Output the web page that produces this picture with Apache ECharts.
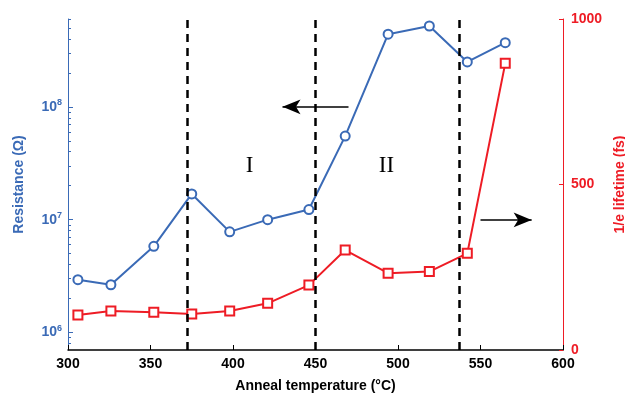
<!DOCTYPE html>
<html>
<head>
<meta charset="utf-8">
<script src="https://cdn.jsdelivr.net/npm/echarts@6/dist/echarts.min.js"></script>
<style>
html,body{margin:0;padding:0;background:#fff;}
#chart{width:625px;height:395px;}
</style>
</head>
<body>
<div id="chart"></div>
<script>
// anneal temperature (°C)
var temps = [306, 326, 352, 375, 398, 421, 446, 468, 494, 519, 542, 565];
// resistance (ohm), log axis
var resistance = [2.94e6, 2.65e6, 5.8e6, 1.69e7, 7.8e6, 1.0e7, 1.23e7, 5.5e7, 4.4e8, 5.2e8, 2.5e8, 3.7e8];
// 1/e lifetime (fs)
var lifetime = [106, 118, 114, 109, 118, 141, 196, 302, 232, 237, 292, 866];
// region boundaries (°C)
var bounds = [372, 450, 537];
// left axis ticks
var majorTicks = [1e6, 1e7, 1e8];
var minorTicks = [8e5, 9e5, 2e6, 3e6, 4e6, 5e6, 6e6, 7e6, 8e6, 9e6,
                  2e7, 3e7, 4e7, 5e7, 6e7, 7e7, 8e7, 9e7, 2e8, 3e8, 4e8, 5e8, 6e8];

var blue = "#3a6ab6";
var red = "#ee1c25";
var font = "Liberation Sans";

function zip(xs, ys){
    var out = [];
    for (var i = 0; i < xs.length; i++) out.push([xs[i], ys[i]]);
    return out;
}

var myChart = echarts.init(document.getElementById('chart'));
myChart.setOption({
    animation: false,
    backgroundColor: "#fff",
    grid: {left: 68, right: 62, top: 19, bottom: 45, containLabel: false, outerBoundsMode: 'none'},
    xAxis: {
        type: 'value', min: 300, max: 600, interval: 50,
        name: 'Anneal temperature (°C)', nameLocation: 'middle', nameGap: 29,
        nameTextStyle: {color: '#000', fontFamily: font, fontWeight: 'bold', fontSize: 14},
        axisLine: {lineStyle: {color: '#000', width: 1.5}},
        axisTick: {inside: true, length: 5, lineStyle: {color: '#000'}},
        axisLabel: {color: '#000', fontFamily: font, fontWeight: 'bold', fontSize: 14, margin: 7,
                    formatter: function(v){ return String(v); }},
        splitLine: {show: false}
    },
    yAxis: [
        {
            type: 'log', logBase: 10, min: 7e5, max: 6e8, position: 'left',
            name: 'Resistance (Ω)', nameLocation: 'middle', nameGap: 42, nameRotate: 90,
            nameTextStyle: {color: blue, fontFamily: font, fontWeight: 'bold', fontSize: 14},
            axisLine: {show: true, lineStyle: {color: blue, width: 1}},
            axisTick: {show: true, inside: true, length: 5, customValues: majorTicks, lineStyle: {color: blue}},
            axisLabel: {
                customValues: majorTicks, margin: 6,
                formatter: function(v){
                    return '{b|10}{s|' + Math.round(Math.log10(v)) + '}';
                },
                rich: {
                    b: {color: blue, fontFamily: font, fontWeight: 'bold', fontSize: 14},
                    s: {color: blue, fontFamily: font, fontWeight: 'bold', fontSize: 9, padding: [0, 0, 9, 0]}
                }
            },
            splitLine: {show: false}
        },
        {
            type: 'value', min: 0, max: 1000, interval: 500, position: 'right',
            name: '1/e lifetime (fs)', nameLocation: 'middle', nameGap: 50, nameRotate: 90,
            nameTextStyle: {color: red, fontFamily: font, fontWeight: 'bold', fontSize: 14},
            axisLine: {show: true, lineStyle: {color: red, width: 1}},
            axisTick: {show: true, inside: true, length: 4, lineStyle: {color: red}},
            axisLabel: {color: red, fontFamily: font, fontWeight: 'bold', fontSize: 14, margin: 8,
                        formatter: function(v){ return String(v); }},
            splitLine: {show: false}
        },
        {
            // minor ticks of the log axis
            type: 'log', logBase: 10, min: 7e5, max: 6e8, position: 'left',
            axisLine: {show: false},
            axisTick: {show: true, inside: true, length: 3, customValues: minorTicks, lineStyle: {color: blue}},
            axisLabel: {show: false},
            splitLine: {show: false}
        }
    ],
    series: [
        {
            type: 'line', yAxisIndex: 0, data: zip(temps, resistance),
            symbol: 'emptyCircle', symbolSize: 9,
            lineStyle: {color: blue, width: 2},
            itemStyle: {color: blue, borderWidth: 2},
            z: 3,
            markLine: {
                silent: true, symbol: ['none', 'arrow'], symbolSize: [11, 18],
                label: {show: false},
                lineStyle: {color: '#000', width: 1.5, type: 'solid'},
                data: [[{coord: [470, 1e8]}, {coord: [430, 1e8]}]]
            },
            markPoint: {
                silent: true, symbol: 'circle', symbolSize: 1,
                itemStyle: {color: 'rgba(0,0,0,0)'},
                label: {show: true, position: 'inside', formatter: '{b}', color: '#000',
                        fontFamily: 'Liberation Serif', fontSize: 23},
                data: [
                    {name: 'I', coord: [410, 2.97e7]},
                    {name: 'II', coord: [493, 2.97e7]}
                ]
            }
        },
        {
            type: 'line', yAxisIndex: 1, data: zip(temps, lifetime),
            symbol: 'emptyRect', symbolSize: 9,
            lineStyle: {color: red, width: 2},
            itemStyle: {color: red, borderWidth: 2.5},
            z: 3,
            markLine: {
                silent: true, symbol: ['none', 'arrow'], symbolSize: [11, 18],
                label: {show: false},
                lineStyle: {color: '#000', width: 1.5, type: 'solid'},
                data: [[{coord: [550, 393]}, {coord: [581, 393]}]]
            }
        },
        {
            type: 'line', yAxisIndex: 1, data: [],
            markLine: {
                silent: true, symbol: 'none',
                label: {show: false},
                lineStyle: {color: '#000', width: 2.5, type: [8, 6]},
                data: bounds.map(function(b){ return {xAxis: b}; })
            }
        }
    ]
});
window.addEventListener("resize", function() {
    myChart.resize();
});
</script>
</body>
</html>
